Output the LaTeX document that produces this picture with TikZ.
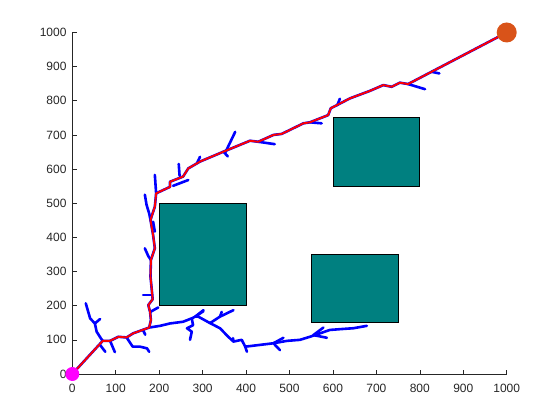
\documentclass[tikz,border=0pt]{standalone}
\usepackage{fontspec}
\setmainfont{Liberation Sans}
\begin{document}
\definecolor{axgray}{HTML}{262626}
\definecolor{obst}{HTML}{008080}
\definecolor{goalc}{HTML}{D95319}
\definecolor{startc}{RGB}{255,0,255}
\tikzset{
  treeline/.style={draw=blue, line width=2.6pt, line join=round, line cap=round},
  pathline/.style={draw=red, line width=1.9pt, line join=round, line cap=round},
  obstacle/.style={fill=obst, draw=black, line width=0.8pt},
  axline/.style={draw=axgray, line width=0.6pt},
  ticklbl/.style={text=axgray, inner sep=0pt, font=\fontsize{12}{12}\selectfont},
}
\begin{tikzpicture}[x=0.4344pt, y=0.3415pt]
\useasboundingbox (-72.3pt,-46pt) rectangle (487.7pt,374pt);
% obstacles
\path[obstacle] (200,200) rectangle (400,500);
\path[obstacle] (600,550) rectangle (800,750);
\path[obstacle] (550,150) rectangle (750,350);
% axes
\draw[axline] (0,1000) -- (0,0) -- (1000,0);
\foreach \v in {0,100,...,1000}{
  \draw[axline] (\v,0) -- ++(0,4.4pt);
  \draw[axline] (0,\v) -- ++(4.4pt,0);
  \node[ticklbl, anchor=north] (xl\v) at ([yshift=-10pt]\v,0) {\v};
  \node[ticklbl, anchor=east] (yl\v) at ([xshift=-5.6pt]0,\v) {\v};
}
% tree
\path[treeline] (0,0) -- (70,97) -- (87,97) -- (106,109) -- (125,107) -- (140,119) -- (177,136) -- (181,158) -- (179,182) -- (175,202) -- (185,219) -- (183,246) -- (180,285) -- (181,334) -- (190,368) -- (186,407) -- (180,451) -- (190,490) -- (193,529) -- (225,548) -- (225,563) -- (255,578) -- (267,602) -- (294,622) -- (348,651) -- (409,683) -- (428,680) -- (463,700) -- (482,703) -- (532,734) -- (547,737) -- (589,758) -- (595,778) -- (639,807) -- (685,829) -- (716,846) -- (735,841) -- (754,853) -- (773,849) -- (1000,1000);
\path[treeline] (70,97) -- (66,104) -- (56,124) -- (52,148) -- (41,163) -- (31,207);
\path[treeline] (52,148) -- (64,161);
\path[treeline] (64,85) -- (76,65);
\path[treeline] (87,97) -- (98,64);
\path[treeline] (125,107) -- (139,80) -- (156,80) -- (172,75) -- (177,65);
\path[treeline] (163,128) -- (168,115);
\path[treeline] (177,136) -- (202,141) -- (225,148) -- (255,153) -- (275,163) -- (283,168) -- (302,184);
\path[treeline] (275,163) -- (278,143) -- (264,134) -- (275,124) -- (271,100);
\path[treeline] (283,168) -- (290,168) -- (317,149) -- (340,134) -- (359,109) -- (371,95) -- (390,100) -- (398,80) -- (463,90) -- (494,97) -- (524,100) -- (547,109) -- (570,119) -- (593,129) -- (624,132) -- (647,134) -- (678,141);
\path[treeline] (371,95) -- (370,105);
\path[treeline] (398,80) -- (402,65);
\path[treeline] (463,90) -- (478,70);
\path[treeline] (463,90) -- (486,106);
\path[treeline] (555,114) -- (586,106);
\path[treeline] (555,114) -- (578,136);
\path[treeline] (317,149) -- (340,168) -- (371,187);
\path[treeline] (340,168) -- (344,182);
\path[treeline] (283,168) -- (302,187);
\path[treeline] (180,451) -- (177,470) -- (171,495) -- (167,525);
\path[treeline] (190,417) -- (186,446);
\path[treeline] (181,334) -- (175,345) -- (167,368);
\path[treeline] (181,231) -- (163,231);
\path[treeline] (180,182) -- (198,195);
\path[treeline] (193,529) -- (190,583);
\path[treeline] (247,580) -- (245,615);
\path[treeline] (232,551) -- (267,568);
\path[treeline] (287,617) -- (294,636);
\path[treeline] (352,648) -- (375,709);
\path[treeline] (348,651) -- (358,637);
\path[treeline] (428,680) -- (466,673);
\path[treeline] (547,737) -- (574,734);
\path[treeline] (610,787) -- (616,806);
\path[treeline] (773,849) -- (812,834);
\path[treeline] (827,885) -- (845,880);
% final path
\path[pathline] (0,0) -- (70,97) -- (87,97) -- (106,109) -- (125,107) -- (140,119) -- (177,136) -- (181,158) -- (179,182) -- (175,202) -- (185,219) -- (183,246) -- (180,285) -- (181,334) -- (190,368) -- (186,407) -- (180,451) -- (190,490) -- (193,529) -- (225,548) -- (225,563) -- (255,578) -- (267,602) -- (294,622) -- (348,651) -- (409,683) -- (428,680) -- (463,700) -- (482,703) -- (532,734) -- (547,737) -- (589,758) -- (595,778) -- (639,807) -- (685,829) -- (716,846) -- (735,841) -- (754,853) -- (773,849) -- (1000,1000);
% start and goal markers
\fill[startc] (0,0) circle (7pt);
\fill[goalc] (1000,1000) circle (10pt);
\end{tikzpicture}
\end{document}
